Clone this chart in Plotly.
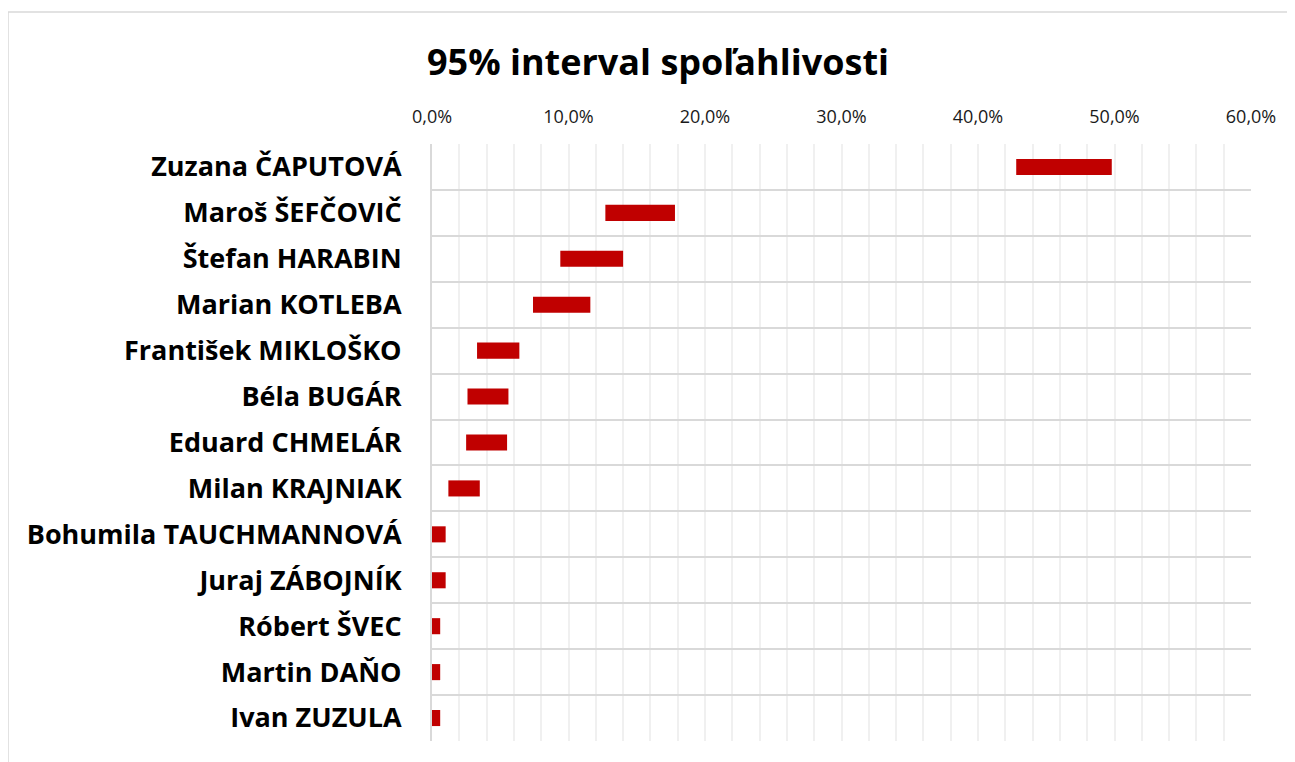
import plotly.graph_objects as go

names = ["Zuzana ČAPUTOVÁ", "Maroš ŠEFČOVIČ", "Štefan HARABIN", "Marian KOTLEBA",
         "František MIKLOŠKO", "Béla BUGÁR", "Eduard CHMELÁR", "Milan KRAJNIAK",
         "Bohumila TAUCHMANNOVÁ", "Juraj ZÁBOJNÍK", "Róbert ŠVEC", "Martin DAŇO", "Ivan ZUZULA"]
low = [42.8, 12.7, 9.4, 7.4, 3.3, 2.6, 2.5, 1.2, 0.0, 0.0, 0.0, 0.0, 0.0]
high = [49.8, 17.8, 14.0, 11.6, 6.4, 5.6, 5.5, 3.5, 1.0, 1.0, 0.6, 0.6, 0.6]
tick_vals = [0, 10, 20, 30, 40, 50, 60]
tick_text = ["0,0%", "10,0%", "20,0%", "30,0%", "40,0%", "50,0%", "60,0%"]

width = [h - l for h, l in zip(high, low)]

FONT = "Open Sans"

fig = go.Figure(go.Bar(
    y=names, x=width, base=low, orientation="h",
    marker=dict(color="#c00000", line=dict(width=0)), width=0.35,
    hoverinfo="skip"))

# page has an 8px body margin; figure drawn from (8,8)
OFF = 8
L, R, T, B = 432 - OFF, 44, 144 - OFF, 21
W, H = 1295 - OFF, 762 - OFF
pw, ph = W - L - R, H - T - B

fig.update_layout(
    width=W, height=H,
    margin=dict(l=L, r=R, t=T, b=B),
    paper_bgcolor="white", plot_bgcolor="white",
    showlegend=False,
    title=dict(text="<b>95% interval spoľahlivosti</b>", x=(658 - OFF) / W, xanchor="center",
               y=1 - (62 - OFF) / H, yanchor="middle",
               font=dict(family=FONT, size=36, color="black")),
    font=dict(family=FONT, color="black"),
)
fig.update_xaxes(
    side="top", range=[0, 60], tickvals=tick_vals, ticktext=tick_text,
    showgrid=True, gridcolor="#f0f0f0", gridwidth=1.5,
    minor=dict(dtick=2, showgrid=True, gridcolor="#f0f0f0", gridwidth=1.5),
    zeroline=False, showline=False, ticks="", ticklabelstandoff=16,
    tickfont=dict(family=FONT, size=18, color="#1a1a1a"), fixedrange=True)
fig.update_yaxes(
    type="category", autorange="reversed", tickson="boundaries",
    showgrid=True, gridcolor="#d9d9d9", gridwidth=1.5,
    showline=True, linecolor="#d9d9d9", linewidth=2, ticks="",
    tickvals=names, ticktext=["<b>" + n + "</b>" for n in names],
    tickfont=dict(family=FONT, size=27, color="black"),
    ticklabelstandoff=23, fixedrange=True)

# chart frame
fig.add_shape(type="rect", xref="paper", yref="paper",
              x0=(8 - OFF - L) / pw, x1=(W + 10 - L) / pw,
              y0=-(B + 10) / ph, y1=1 + (T - (12 - OFF)) / ph,
              line=dict(color="#d9d9d9", width=1.5), fillcolor="rgba(0,0,0,0)", layer="below")

fig.write_html("out.html")
